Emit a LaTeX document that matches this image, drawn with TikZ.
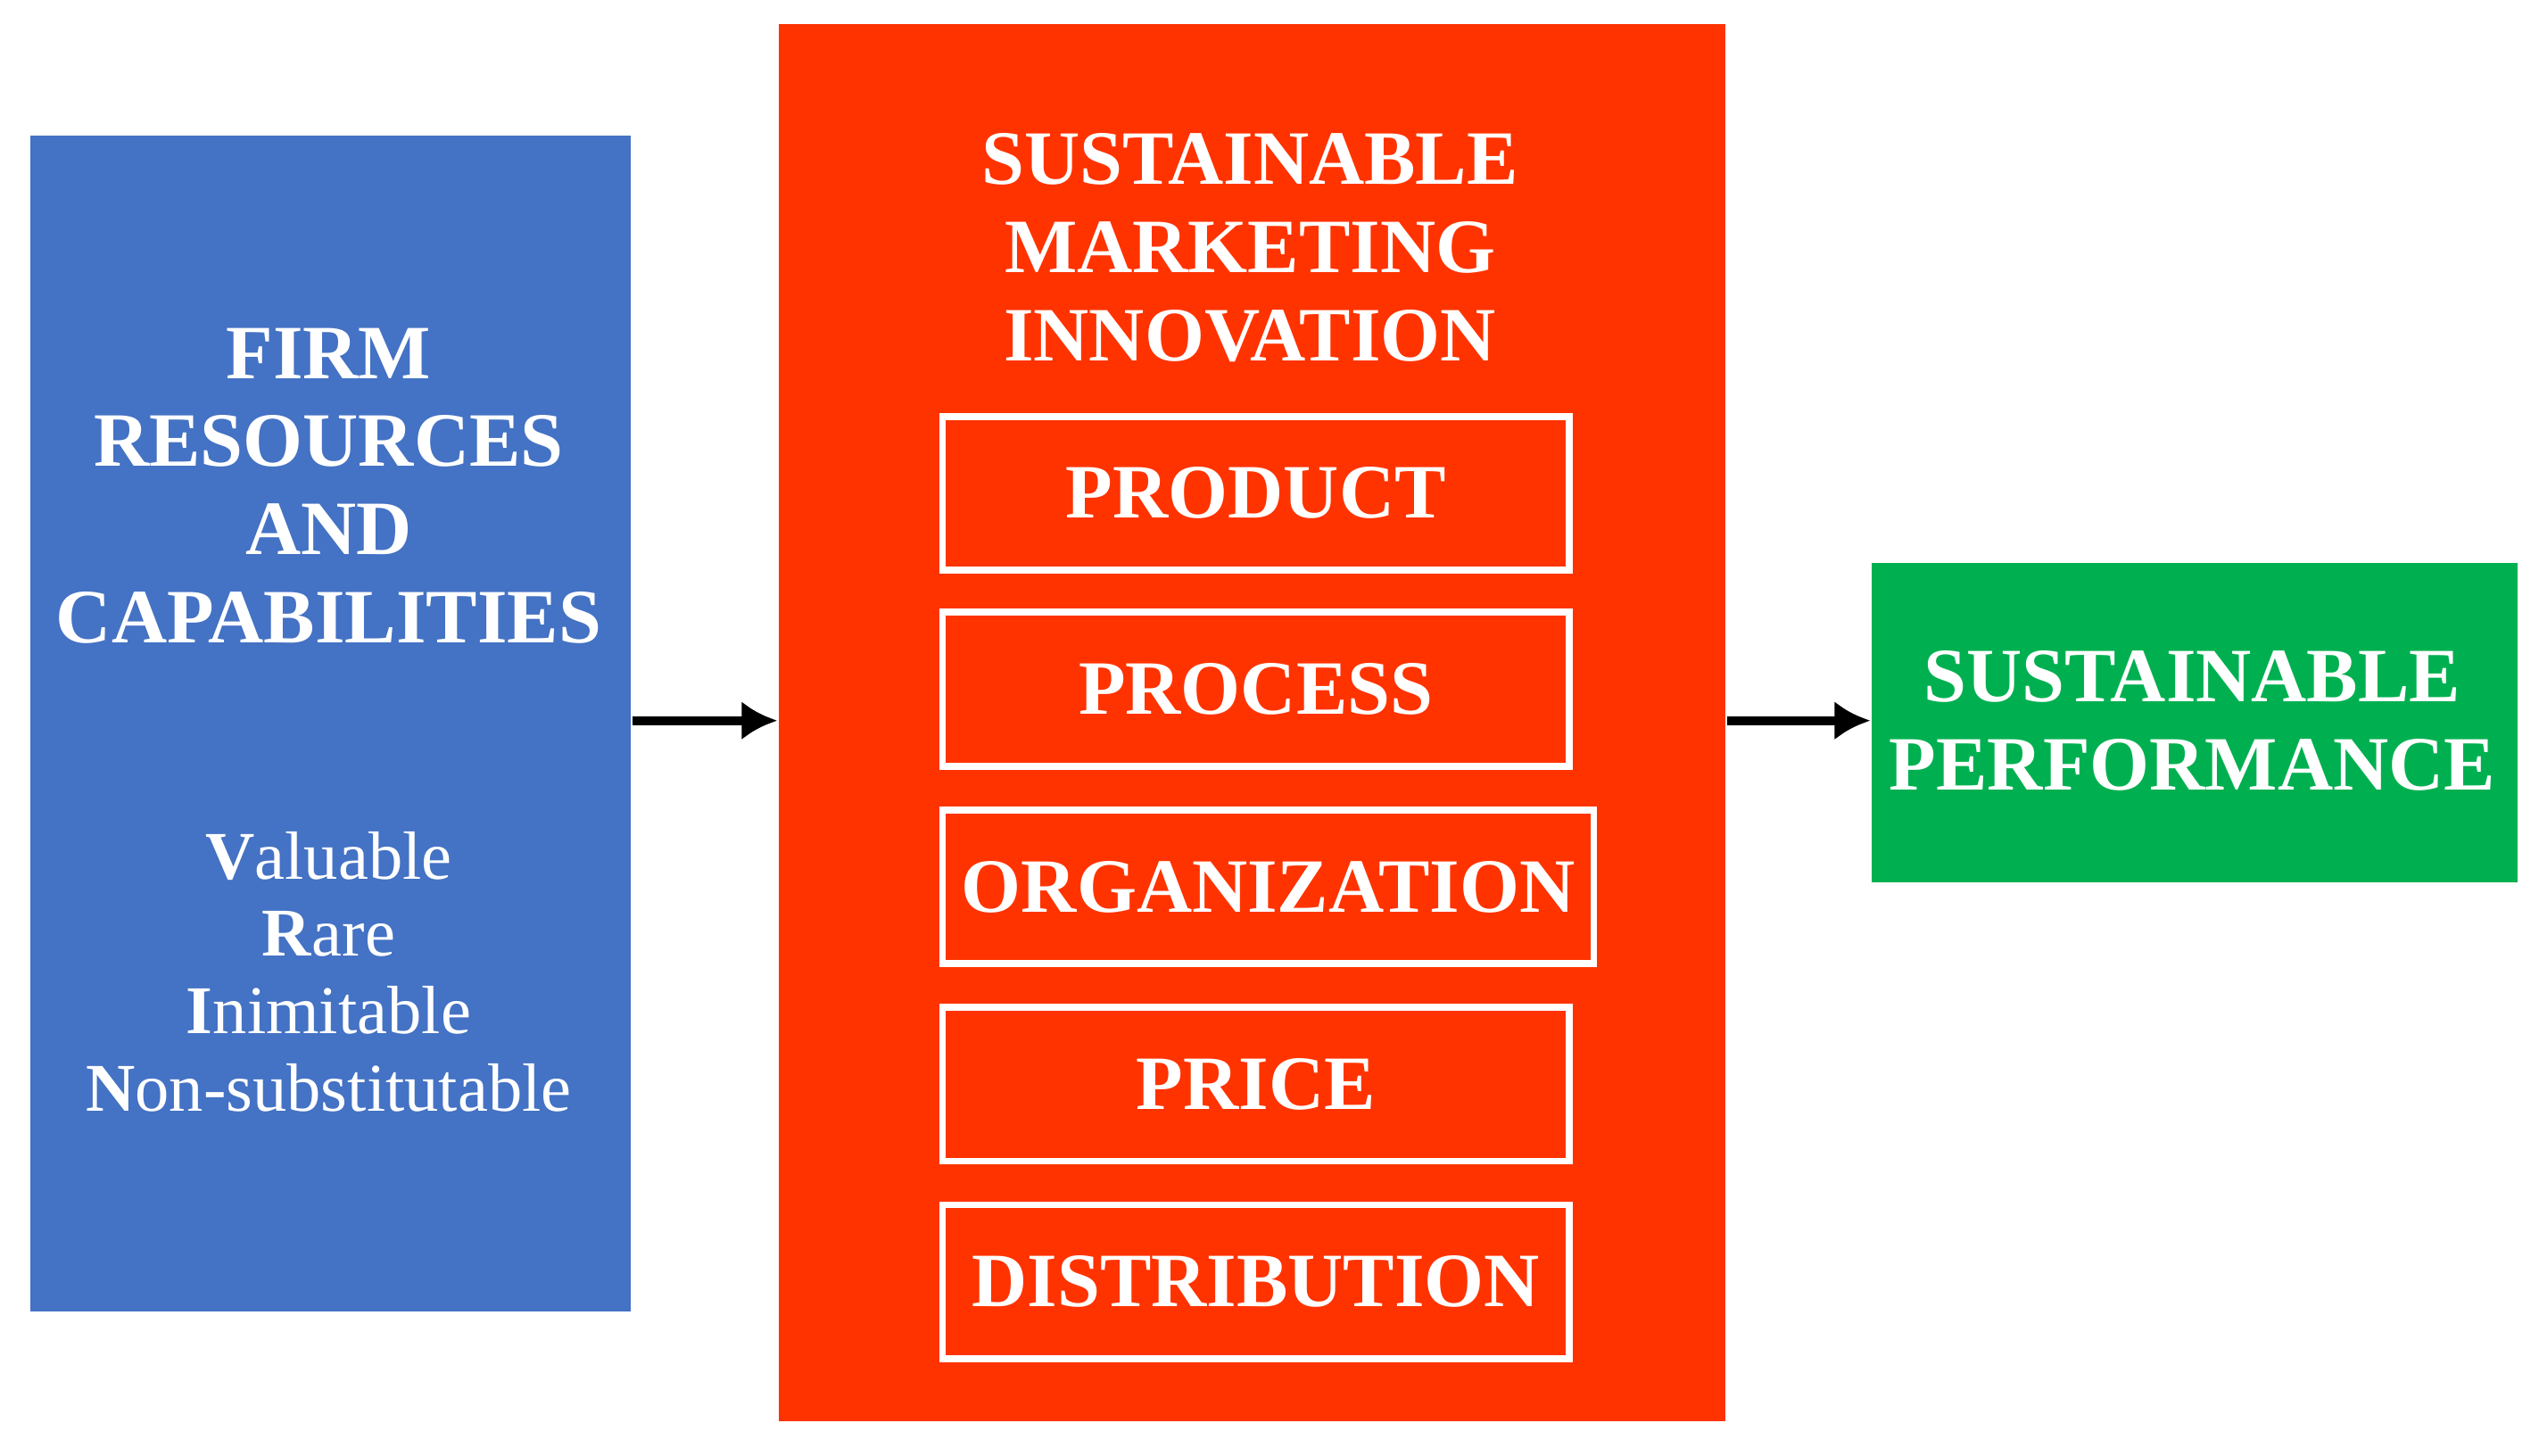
\documentclass[tikz,border=0pt]{standalone}
\usepackage{fontspec}
\setmainfont{Liberation Serif}
\usetikzlibrary{arrows.meta}
\definecolor{cblue}{HTML}{4472C4}
\definecolor{cred}{HTML}{FF3300}
\definecolor{cgreen}{HTML}{00B050}
\tikzset{x=0.1mm,y=-0.1mm,
 big/.style={font=\fontsize{13.5}{15.5}\selectfont\bfseries,text=white,align=center},
 inner/.style={draw=white,line width=1.2pt,minimum width=38.7mm,minimum height=9.5mm,big,anchor=north west},
 conn/.style={line width=1.6pt,-{Latex[length=2.2mm,width=2.4mm]}}}
\begin{document}
\begin{tikzpicture}
\useasboundingbox (0,0) rectangle (1568,899);
\node[fill=cblue,minimum width=37.1mm,minimum height=72.6mm,anchor=north west,inner sep=0] (blue) at (18,83) {};
\node[fill=cred,minimum width=58.5mm,minimum height=86.3mm,anchor=north west,inner sep=0] (red) at (480,14) {};
\node[fill=cgreen,minimum width=39.9mm,minimum height=19.7mm,anchor=north west,inner sep=0] (green) at (1155,347) {};
\node[big] at (203,300) {FIRM\\RESOURCES\\AND\\CAPABILITIES};
\node[text=white,align=center,font=\fontsize{12}{13.6}\selectfont] at (203,600) {\textbf{V}aluable\\\textbf{R}are\\\textbf{I}nimitable\\\textbf{N}on-substitutable};
\node[big] at (772,153) {SUSTAINABLE\\MARKETING\\INNOVATION};
\node[big] at (1354,445) {SUSTAINABLE\\PERFORMANCE};
\node[inner] (p1) at (580,255) {PRODUCT};
\node[inner] (p2) at (580,376) {PROCESS};
\node[inner] (p3) at (580,498) {ORGANIZATION};
\node[inner] (p4) at (580,620) {PRICE};
\node[inner] (p5) at (580,742) {DISTRIBUTION};
\draw[conn] (blue.east|-0,445) -- (red.west|-0,445);
\draw[conn] (red.east|-0,445) -- (green.west|-0,445);
\end{tikzpicture}
\end{document}
